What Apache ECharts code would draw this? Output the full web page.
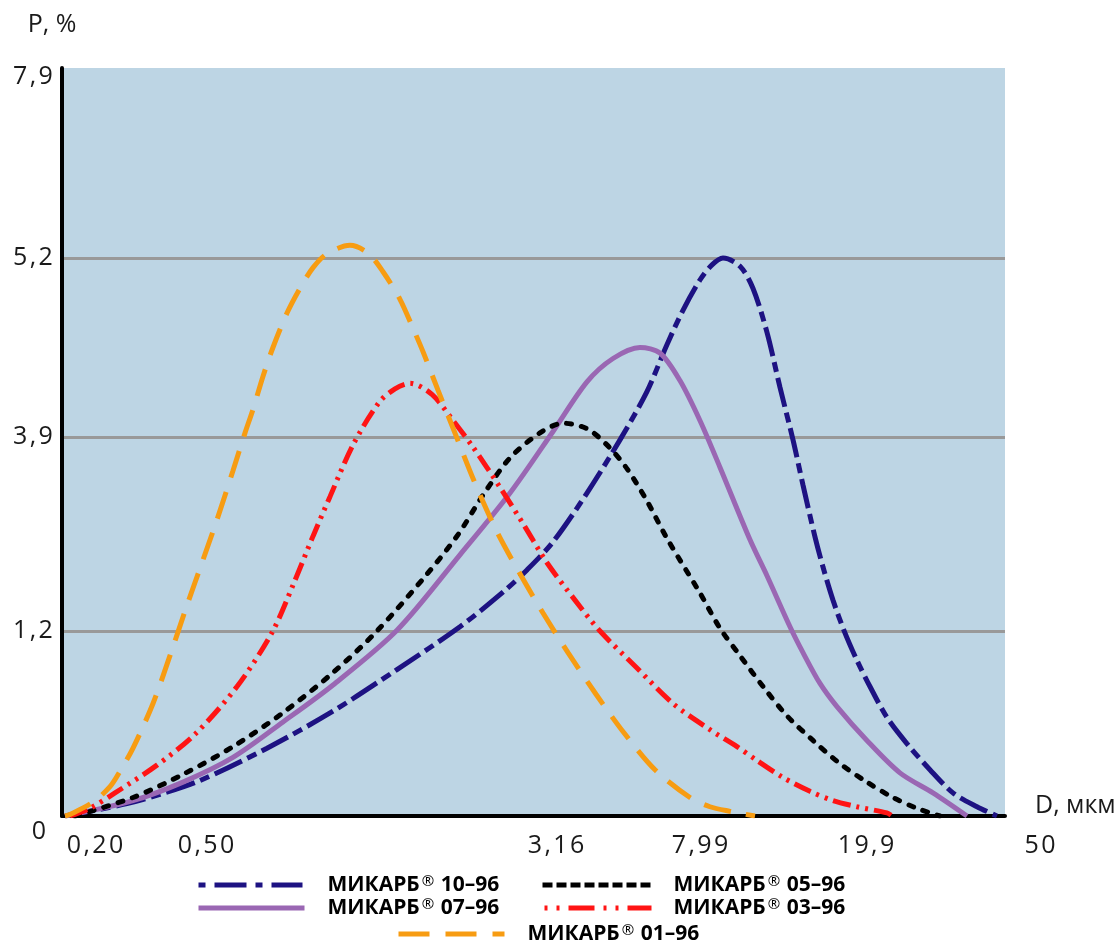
<!DOCTYPE html>
<html><head><meta charset="utf-8">
<script src="https://cdn.jsdelivr.net/npm/echarts@6/dist/echarts.min.js"></script>
<style>html,body{margin:0;padding:0;background:#fff}#c{width:1120px;height:942px}</style>
</head><body><div id="c"></div>
<script>
// ---- axis ticks ----
const yTicks = [0, 1.2, 3.9, 5.2, 7.9];                  // P, %
const yTickLabels = ['0', '1,2', '3,9', '5,2', '7,9'];
const yTickPos = [0, 24.73, 50.67, 74.60, 100];           // position along P axis (% of axis length)
const xTickPos = [3.5, 15.27, 52.39, 67.66, 85.26, 103.71]; // position along D axis (% of axis length)
const xTickLabels = ['0,20', '0,50', '3,16', '7,99', '19,9', '50'];

// ---- series names ----
const seriesNames = ['МИКАРБ® 10–96', 'МИКАРБ® 07–96', 'МИКАРБ® 05–96', 'МИКАРБ® 03–96', 'МИКАРБ® 01–96'];

// ---- series values: x = position along D axis, p = P % ----
const x1096 = [0.32, 6.89, 10.39, 14.63, 21.74, 28.74, 35.52, 42.20, 46.76, 49.31, 52.07, 55.67, 59.17, 62.03, 64.15, 65.85, 67.65, 68.93, 70.09, 71.90, 73.27, 74.76, 76.14, 77.52, 78.58, 79.85, 80.70, 81.76, 82.92, 84.30, 85.68, 87.48, 89.60, 92.04, 94.48, 97.03, 99.15];
const p1096 = [0, 0.08, 0.14, 0.23, 0.44, 0.68, 0.95, 1.26, 1.74, 2.05, 2.44, 3.12, 3.86, 4.23, 4.57, 4.82, 5.04, 5.15, 5.20, 5.14, 4.98, 4.66, 4.26, 3.86, 3.23, 2.51, 2.09, 1.63, 1.21, 1.01, 0.84, 0.64, 0.47, 0.30, 0.15, 0.06, 0];

const x0796 = [0.32, 7.53, 12.83, 18.13, 23.44, 28.74, 35.52, 42.20, 47.51, 52.07, 55.67, 58.43, 61.29, 63.41, 65.53, 67.65, 69.77, 72.96, 74.76, 77.20, 78.58, 80.38, 82.18, 85.36, 88.86, 92.36, 95.97];
const p0796 = [0, 0.10, 0.22, 0.38, 0.61, 0.85, 1.21, 2.26, 3.12, 3.94, 4.30, 4.47, 4.55, 4.51, 4.31, 4.02, 3.48, 2.47, 1.97, 1.26, 1.06, 0.86, 0.71, 0.49, 0.28, 0.15, 0];

const x0596 = [1.38, 7.53, 12.83, 18.13, 23.44, 28.74, 33.40, 38.70, 41.99, 44.64, 47.51, 50.69, 53.13, 55.67, 57.79, 59.91, 62.03, 64.15, 67.65, 69.77, 71.90, 74.34, 76.88, 79.64, 82.50, 85.36, 88.12, 90.66, 93.10];
const p0596 = [0, 0.12, 0.27, 0.45, 0.67, 0.93, 1.20, 1.99, 2.54, 3.09, 3.61, 3.93, 4.00, 3.96, 3.79, 3.46, 3.01, 2.49, 1.73, 1.24, 1.04, 0.84, 0.65, 0.49, 0.34, 0.22, 0.12, 0.05, 0];

const x0396 = [0.85, 2.97, 5.62, 10.07, 14.10, 18.56, 22.27, 24.50, 26.62, 28.42, 30.86, 33.61, 35.31, 36.90, 39.23, 41.46, 43.58, 46.45, 49.10, 51.43, 54.40, 57.05, 60.97, 64.79, 68.71, 71.58, 73.70, 76.45, 79.32, 81.76, 84.30, 87.48, 88.01];
const p0396 = [0, 0.05, 0.15, 0.33, 0.53, 0.84, 1.19, 1.84, 2.52, 3.07, 3.79, 4.15, 4.25, 4.29, 4.21, 4.02, 3.76, 3.20, 2.65, 2.15, 1.63, 1.20, 0.96, 0.73, 0.56, 0.45, 0.36, 0.25, 0.16, 0.10, 0.06, 0.02, 0];

const x0196 = [0.32, 0.85, 3.29, 5.09, 6.15, 7.53, 9.65, 11.45, 13.26, 14.95, 16.44, 18.13, 19.41, 20.25, 21.31, 22.37, 23.86, 25.24, 26.62, 28.10, 30.54, 32.45, 34.04, 35.84, 37.22, 38.28, 39.87, 41.78, 43.69, 46.13, 48.46, 51.01, 53.66, 56.63, 59.59, 62.88, 66.59, 68.71, 70.84, 73.49];
const p0196 = [0, 0.01, 0.09, 0.19, 0.29, 0.44, 0.73, 1.04, 1.56, 2.19, 2.75, 3.43, 3.93, 4.10, 4.34, 4.55, 4.80, 4.98, 5.13, 5.26, 5.38, 5.27, 5.10, 4.90, 4.69, 4.52, 4.24, 3.91, 3.29, 2.58, 2.02, 1.45, 1.06, 0.79, 0.54, 0.30, 0.12, 0.06, 0.03, 0];

// P axis of the reference is piecewise linear between its labelled ticks
function pToAxis(p) {
  for (let i = 0; i < yTicks.length - 1; i++) {
    if (p <= yTicks[i + 1] || i === yTicks.length - 2) {
      return yTickPos[i] + (p - yTicks[i]) / (yTicks[i + 1] - yTicks[i]) * (yTickPos[i + 1] - yTickPos[i]);
    }
  }
  return 0;
}
function pairs(xs, ps) { return xs.map((x, i) => [x, pToAxis(ps[i])]); }
function nearest(arr, v) {
  let best = 0;
  arr.forEach((p, i) => { if (Math.abs(p - v) < Math.abs(arr[best] - v)) best = i; });
  return best;
}
function spaced(text, key) { return text.split('').map(ch => '{' + key + '|' + ch + '}').join(''); }

const FONT = "'Open Sans', 'Noto Sans', sans-serif";
const TXT = '#1a1a1a';
const styles = [
  { color: '#1d1282', type: [30, 6, 10, 6], cap: 'butt', legend: [7, 9, 32, 9] },
  { color: '#9a67b3', type: 'solid', cap: 'butt', legend: 'solid' },
  { color: '#000000', type: [5, 10], cap: 'round', legend: [10, 4] },
  { color: '#ff1414', type: [18, 6, 3, 6, 3, 6], cap: 'butt', legend: [3, 9, 3, 9, 26, 9] },
  { color: '#f79c12', type: [28, 15], cap: 'butt', legend: [31, 16] }
];
const datasets = [pairs(x1096, p1096), pairs(x0796, p0796), pairs(x0596, p0596), pairs(x0396, p0396), pairs(x0196, p0196)];

const series = seriesNames.map((n, i) => ({
  name: n, type: 'line', xAxisIndex: 0, yAxisIndex: 0,
  data: datasets[i], smooth: 0.3, symbol: 'none', showSymbol: false,
  lineStyle: { color: styles[i].color, width: 5, type: styles[i].type, cap: styles[i].cap },
  itemStyle: { color: styles[i].color },
  z: 3 + i
}));

const legendPlaces = [
  { left: 196, top: 874, w: 104, pad: 20 },
  { left: 196, top: 897, w: 106, pad: 18 },
  { left: 540, top: 874, w: 109, pad: 17 },
  { left: 542, top: 897, w: 107, pad: 17 },
  { left: 396, top: 923, w: 106, pad: 18 }
];
const legends = seriesNames.map((n, i) => ({
  data: [n], left: legendPlaces[i].left, top: legendPlaces[i].top, padding: 0,
  itemWidth: legendPlaces[i].w, itemHeight: 14, selectedMode: false,
  itemStyle: { color: 'rgba(0,0,0,0)', borderWidth: 0, opacity: 0 },
  lineStyle: { width: 5, type: styles[i].legend, color: styles[i].color, cap: 'butt' },
  formatter: name => '{b|МИКАРБ}{s|®}{b| ' + name.split(' ')[1] + '}',
  textStyle: {
    padding: [0, 0, 0, legendPlaces[i].pad],
    rich: {
      b: { fontSize: 21, fontWeight: 'bold', fontFamily: FONT, color: '#000', lineHeight: 22 },
      s: { fontSize: 15, fontFamily: FONT, color: '#000', verticalAlign: 'top', lineHeight: 14, padding: [0, 1, 0, 2] }
    }
  }
}));

const gridW0 = 943, gridW1 = 1120 - 62;
const labelRich = {
  c: { fontSize: 25, fontFamily: FONT, color: TXT, padding: [0, 1.2, 0, 1.2] },
  t: { fontSize: 25, fontFamily: FONT, color: TXT, padding: [18, 1.2, 0, 1.2] },
  z: { fontSize: 25, fontFamily: FONT, color: TXT, padding: [32, 8, 0, 0] }
};
const option = {
  animation: false,
  backgroundColor: '#ffffff',
  grid: [
    { left: 62, top: 68, width: gridW0, bottom: 126, show: true, backgroundColor: '#bdd5e4', borderWidth: 0 },
    { left: 62, top: 68, width: gridW1, bottom: 126, show: false }
  ],
  xAxis: [
    {
      type: 'value', gridIndex: 0, min: 0, max: 100,
      axisLine: { show: true, lineStyle: { color: '#000', width: 4 } },
      axisTick: { show: false }, axisLabel: { show: false }, splitLine: { show: false },
      name: 'D, мкм', nameLocation: 'end', nameGap: 30,
      nameTextStyle: { fontSize: 25, fontFamily: FONT, color: TXT, align: 'left', verticalAlign: 'bottom', lineHeight: 20 }
    },
    {
      type: 'value', gridIndex: 1, min: 0, max: 100 * gridW1 / gridW0,
      axisLine: { show: false }, axisTick: { show: false }, splitLine: { show: false },
      axisLabel: {
        show: true, customValues: xTickPos, margin: 17,
        fontSize: 25, fontFamily: FONT, color: TXT,
        formatter: v => spaced(xTickLabels[nearest(xTickPos, v)], 'c'),
        rich: labelRich
      }
    }
  ],
  yAxis: [
    {
      type: 'value', gridIndex: 0, min: 0, max: 100,
      axisLine: { show: true, lineStyle: { color: '#000', width: 4 } },
      axisTick: { show: false, customValues: yTickPos },
      splitLine: { show: true, showMinLine: false, showMaxLine: false, lineStyle: { color: '#999999', width: 3 } },
      axisLabel: {
        customValues: yTickPos, margin: 8, fontSize: 25, fontFamily: FONT, color: TXT,
        formatter: v => {
          const i = nearest(yTickPos, v);
          if (i === 0) return '{z|' + yTickLabels[0] + '}';
          if (i === yTicks.length - 1) return spaced(yTickLabels[i], 't');
          return spaced(yTickLabels[i], 'c');
        },
        rich: labelRich
      },
      name: 'P, %', nameLocation: 'end', nameGap: 31,
      nameTextStyle: { fontSize: 25, fontFamily: FONT, color: TXT, align: 'center', padding: [0, 20, 0, 0] }
    },
    { type: 'value', gridIndex: 1, min: 0, max: 100, show: false }
  ],
  legend: legends,
  series: series
};
const chart = echarts.init(document.getElementById('c'), null, { renderer: 'canvas' });
chart.setOption(option);
</script></body></html>
